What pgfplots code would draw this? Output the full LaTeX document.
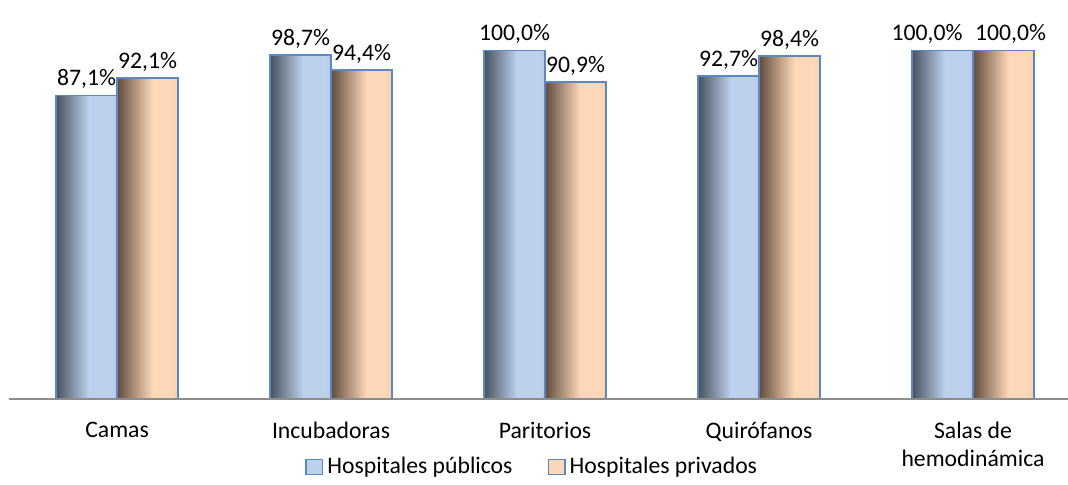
\documentclass[border=0pt]{standalone}
\usepackage{fontspec}
\setmainfont{Carlito}
\usepackage{pgfplots}
\usepackage{pgfplotstable}
\pgfplotsset{compat=1.18}

\definecolor{pubdark}{HTML}{48525F}
\definecolor{publight}{HTML}{BDD1ED}
\definecolor{pubright}{HTML}{B6CAE6}
\definecolor{privdark}{HTML}{634C3D}
\definecolor{privlight}{HTML}{FCD8B8}
\definecolor{privright}{HTML}{F6CFAE}
\definecolor{barline}{HTML}{5B87C2}
\definecolor{axisgrey}{HTML}{8C8C8C}

% bar spans 25bp..75bp of the shading
\pgfdeclarehorizontalshading{pubshade}{100bp}{color(0bp)=(pubdark); color(25bp)=(pubdark); color(52bp)=(publight); color(70bp)=(publight); color(75bp)=(pubright); color(100bp)=(pubright)}
\pgfdeclarehorizontalshading{privshade}{100bp}{color(0bp)=(privdark); color(25bp)=(privdark); color(54bp)=(privlight); color(70bp)=(privlight); color(75bp)=(privright); color(100bp)=(privright)}

\newcommand{\chartfont}{\fontsize{11.85}{14}\selectfont}

\pgfplotstableread{
x y
0 87.1
1 98.7
2 100.0
3 92.7
4 100.0
}\pubdata
\pgfplotstableread{
x y
0 92.1
1 94.4
2 90.9
3 98.4
4 100.0
}\privdata

\begin{document}
\chartfont
\begin{tikzpicture}
\begin{axis}[
    scale only axis,
    width=529.5pt, height=199.5pt,
    ybar=0pt, bar width=30.5pt,
    xmin=-0.505, xmax=4.444,
    ymin=0, ymax=114.5,
    axis on top,
    axis x line*=bottom,
    axis y line=none,
    x axis line style={draw=axisgrey, line width=1pt},
    xtick={0,...,4},
    xtick style={draw=none},
    xticklabels={Camas, Incubadoras, Paritorios, Quirófanos, {Salas de\\hemodinámica}},
    xticklabel style={font=\chartfont, align=center, yshift=-3pt},
    nodes near coords={\pgfmathprintnumber[fixed, fixed zerofill, precision=1, use comma, assume math mode=true]{\pgfplotspointmeta}\%},
    nodes near coords style={font=\chartfont, yshift=-1pt},
    legend style={
        at={(0.495,-0.1704)}, anchor=center,
        draw=none, font=\chartfont,
        legend columns=-1,
        /tikz/every even column/.append style={column sep=15.5pt},
        inner sep=0pt,
    },
]
% one plot per bar, so that each bar gets its own shading
\pgfplotsinvokeforeach{0,...,4}{
  \addplot[draw=barline, line width=0.75pt, shading=pubshade,
      bar shift=-15.25pt, forget plot,
      restrict expr to domain={\coordindex}{#1:#1},
      coordinate style/.condition={\coordindex==4}{xshift=-7.75pt}]
      table[x=x, y=y] {\pubdata};
  \addplot[draw=barline, line width=0.75pt, shading=privshade,
      bar shift=15.25pt, forget plot,
      restrict expr to domain={\coordindex}{#1:#1},
      coordinate style/.condition={\coordindex==4}{xshift=3.5pt}]
      table[x=x, y=y] {\privdata};
}
\addlegendimage{legend image code/.code={\path[draw=barline, line width=0.75pt, fill=publight] (0pt,-3.75pt) rectangle (8.3pt,3.75pt);}}
\addlegendentry{Hospitales públicos}
\addlegendimage{legend image code/.code={\path[draw=barline, line width=0.75pt, fill=privlight] (0pt,-3.75pt) rectangle (8.3pt,3.75pt);}}
\addlegendentry{Hospitales privados}
\end{axis}
\pgfresetboundingbox
\path (-4.5pt,-42.5pt) rectangle (529.5pt,199.5pt);
\end{tikzpicture}
\end{document}
